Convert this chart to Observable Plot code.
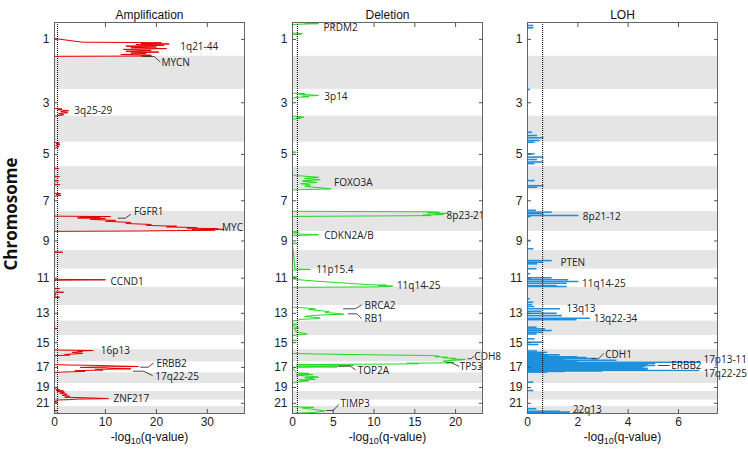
<!DOCTYPE html>
<html>
<head>
<meta charset="utf-8">
<script src="https://cdn.jsdelivr.net/npm/d3@7"></script>
<script src="https://cdn.jsdelivr.net/npm/@observablehq/plot@0.6"></script>
<style>
  body { margin: 0; background: #fff; }
  #wrap { position: relative; width: 748px; height: 454px; overflow: hidden; font-family: "Liberation Sans", Arial, sans-serif; }
  #wrap svg { position: absolute; top: 0; overflow: visible; }
  #ylab { position: absolute; left: 10px; top: 214px; transform: translate(-50%, -50%) rotate(-90deg);
          font: bold 17px "Open Sans", sans-serif; color: #111; white-space: nowrap; }
</style>
</head>
<body>
<div id="wrap"><div id="ylab">Chromosome</div></div>
<script>
// ---------- data ----------
const chromosomes = ["1","2","3","4","5","6","7","8","9","10","11","12","13","14","15","16","17","18","19","20","21","22"];
const chromLengths = [249,243,198,191,181,171,159,146,141,136,135,134,115,107,103,90,81,78,59,63,48,51]; // Mb

// profiles: [chromosome, position within chromosome (Mb), -log10(q)]
const ampProfile = [
  [1,0,0],[1,118,0],[1,145,5.5],[1,147,15],[1,150,21],[1,154,17],[1,158,22.5],[1,163,16],[1,168,21.5],[1,174,14],[1,180,20],[1,186,15],[1,192,22],[1,198,13.5],[1,205,19],[1,212,14],[1,218,20.5],[1,224,15],[1,230,18],[1,236,13],[1,241,19],[1,245,17],[1,247,19],[1,249,0],
  [2,0,0],[2,243,0],
  [3,0,0],[3,140,0],[3,145,1.5],[3,150,0.6],[3,158,2.8],[3,165,1.2],[3,172,2.6],[3,180,0.8],[3,188,1.8],[3,195,0.5],[3,198,0],
  [5,2,0],[5,6,1],[5,12,0.3],[5,18,1.1],[5,24,0.2],[5,32,0.9],[5,40,0.5],[5,46,0],
  [6,10,0],[6,13,0.9],[6,16,0],[6,70,0],[6,72,1],[6,75,0],[6,100,0],[6,103,0.8],[6,106,0],[6,128,0],[6,131,1.1],[6,134,0],
  [7,24,0],[7,27,1.2],[7,32,0.3],[7,40,1.3],[7,46,0],
  [8,0,0],[8,34,0],[8,37,11],[8,40,5],[8,43,9],[8,47,4.5],[8,52,10],[8,58,7],[8,65,12],[8,72,10],[8,80,15],[8,88,14],[8,95,19],[8,102,18],[8,108,24],[8,113,22],[8,118,28],[8,122,26],[8,126,32],[8,129,30],[8,131,33.3],[8,134,27],[8,137,31.5],[8,140,24],[8,143,17],[8,146,0],
  [10,10,0],[10,12.5,1.6],[10,15,0],
  [11,76,0],[11,79.5,10],[11,83,0.3],[11,88,0],
  [12,7,0],[12,9,1],[12,11,0],[12,34,0],[12,36,1.8],[12,39,0.3],[12,71,0],[12,73,1],[12,75,0],
  [14,52,0],[14,54,0.5],[14,56,0],
  [16,0,0],[16,3,0.5],[16,6,7.6],[16,10,4.5],[16,15,5.5],[16,20,3.5],[16,28,5.5],[16,35,2],[16,40,3],[16,44,0],
  [17,20,0],[17,23,3],[17,26,8],[17,30,12],[17,34,16.5],[17,37,9],[17,41,5],[17,44,10],[17,48,11],[17,51,15],[17,55,8],[17,60,9.5],[17,65,4],[17,70,6],[17,75,1.5],[17,78,0],
  [19,40,0],[19,45,1],[19,50,0.3],[19,55,1.8],[19,59,0.5],
  [20,0,0.8],[20,5,2],[20,12,1],[20,20,2.5],[20,28,1.5],[20,35,3],[20,42,2],[20,47,6.5],[20,52,10.6],[20,56,4.5],[20,60,3],[20,63,0],
  [21,10,0],[21,14,0.6],[21,18,0],[22,28,0],[22,30,0.5],[22,33,0],[22,51,0]
];
const delProfile = [
  [1,0,1],[1,3,2.4],[1,6,1.5],[1,9,3.2],[1,13,0.5],[1,16,0],[1,78,0],[1,81,1.2],[1,84,0.5],[1,87,1],[1,90,0],
  [3,28,0],[3,32,1.5],[3,36,0.8],[3,42,2.5],[3,46,3.2],[3,50,1.2],[3,55,2],[3,60,0.3],[3,70,0],
  [4,0,0],[4,3,0.8],[4,7,1.4],[4,12,0.5],[4,16,1],[4,22,0],
  [5,70,0],[5,74,0.4],[5,78,0],
  [6,60,0],[6,65,0.5],[6,72,2],[6,78,3.2],[6,86,1.5],[6,95,3.4],[6,105,1.2],[6,115,3],[6,125,1],[6,135,2.2],[6,145,1.5],[6,155,3.5],[6,163,4.7],[6,168,1.5],[6,171,0],
  [7,157,0],[8,2,17],[8,6,18],[8,10,16.5],[8,14,19],[8,18,17.5],[8,22,18.5],[8,26,16],[8,30,17],[8,36,0],
  [9,0,0],[9,4,0.8],[9,8,0.2],[9,18,0],[9,21,1.5],[9,25,3.2],[9,29,1],[9,33,0],[9,86,0],[9,89,0.6],[9,92,0],
  [11,0,0.3],[11,3,2.2],[11,6,0.5],[11,10,0],[11,55,0],[11,60,0.6],[11,65,0],[11,72,0],[11,80,1],[11,90,3],[11,100,5.5],[11,110,8],[11,116,9.5],[11,119,11.5],[11,122,10.5],[11,125,12.3],[11,128,12],[11,132,10],[11,135,0],
  [13,12,0],[13,18,1.5],[13,25,2.8],[13,30,2],[13,38,3.5],[13,45,4.5],[13,52,4],[13,58,5.5],[13,64,6.3],[13,68,4],[13,74,2.5],[13,80,1.5],[13,86,2.5],[13,92,3.4],[13,97,2.8],[13,102,1],[13,108,0.5],[13,115,0],
  [14,20,0],[14,25,0.6],[14,30,0],[14,45,0.3],[14,50,0.8],[14,55,0.2],[14,80,0.5],[14,88,1.2],[14,94,1.8],[14,100,0.8],[14,107,0],
  [15,32,0],[15,35,0.5],[15,38,0],
  [16,28,0],[16,32,3],[16,38,10],[16,43,16.7],[16,48,18],[16,52,17.5],[16,56,19],[16,60,18.5],[16,64,20],[16,68,19.5],[16,72,21.2],[16,76,20.5],[16,80,19],[16,85,18.5],[16,90,18.8],
  [17,4,19.8],[17,7,18.9],[17,10,14],[17,13,15.5],[17,16,12],[17,19,0.5],[17,22,4],[17,25,7.5],[17,28,6],[17,31,0.5],[17,34,3],[17,37,5.5],[17,40,0.5],[17,45,0],
  [18,0,0.5],[18,4,2],[18,8,0.8],[18,12,2.5],[18,16,0.5],[18,22,1.5],[18,28,2.8],[18,32,3.2],[18,36,1.5],[18,42,2.4],[18,48,2.8],[18,52,0.8],[18,58,2],[18,64,1],[18,70,0.3],[18,78,0],
  [22,0,0],[22,3,1],[22,6,2.6],[22,10,1.2],[22,16,2],[22,22,2.8],[22,28,3.5],[22,33,4],[22,38,3.2],[22,44,2.5],[22,51,0]
];
const lohBars = [
  [1,22,0.25],[1,39,0.25],[3,1,0.12],
  [4,118,0.2],[4,142,0.4],[4,159,0.65],[4,179,0.5],[4,191,0.3],
  [5,86,0.3],[5,110,0.65],[5,128,0.4],[5,146,0.65],[5,158,0.3],
  [6,102,0.3],[6,140,0.65],[6,151,0.4],
  [7,150,0.35],[8,5,0.98],[8,15,0.65],[8,29.5,2.04],[8,37,0.15],
  [9,67,0.12],[9,128,0.25],
  [10,74,0.98],[10,86,0.6],[10,98,0.4],[10,134,0.38],
  [11,35,0.12],[11,65,0.98],[11,79.5,1.64],[11,92,2.04],[11,104.6,1.58],[11,121.5,1.18],[11,129,1.58],
  [12,84,0.12],[12,109,0.25],[12,127,0.2],
  [13,7,0.3],[13,24,1.31],[13,42,0.58],[13,57,1.18],[13,74,1.38],[13,93.5,2.5],[13,105,1.97],
  [14,45,0.38],[14,57,0.72],[14,69,0.98],[14,82,0.6],[14,94,0.38],
  [15,23,0.3],[15,48,0.65],[15,65,0.45],
  [16,10,0.4],[16,20,0.8],[16,30,0.65],[16,38,1.3],[16,45,0.83],[16,52,2.0],[16,58,2.36],[16,65,2.75],[16,72,1.5],[16,78,3.56],[16,84,2.0],
  [17,3,6.85],[17,7,4.7],[17,11,5.1],[17,15,4.0],[17,19,4.8],[17,23,3.5],[17,27,5.1],[17,31,4.7],[17,35,3.2],[17,39,4.6],[17,43,2.5],[17,47,4.8],[17,51,4.2],[17,55,3.6],[17,59,4.8],[17,63,6.85],[17,67,3.0],[17,71,1.5],[17,75,0.8],
  [18,68,0.25],[19,51.5,0.25],
  [22,16,0.37],[22,34,1.3],[22,41,1.7]
];

// labels: [text, chromosome, position (Mb), -log10(q)]
const ampLabels = [["1q21-44",1,177,24.7],["MYCN",2,48,21],["3q25-29",3,156,3.9],["FGFR1",8,0,15.6],["MYC",8,123,32.9],["CCND1",11,92,11],["16p13",16,8,9.1],["ERBB2",17,12,20],["17q22-25",18,30,19.8],["ZNF217",20,54,11.6]];
const delLabels = [["PRDM2",1,39,3.8],["3p14",3,58,3.9],["FOXO3A",6,121,5.1],["8p23-21",8,29,18.9],["CDKN2A/B",9,30,3.9],["11p15.4",11,6,2.9],["11q14-25",11,122,12.8],["BRCA2",13,0,8.83],["RB1",13,95,8.83],["CDH8",16,52,22.3],["TP53",17,37.5,20.5],["TOP2A",17,63,8.0],["TIMP3",22,-20.6,5.9]];
const lohLabels = [["8p21-12",8,42,2.2],["PTEN",10,91,1.31],["11q14-25",11,109,2.17],["13q13",13,24,1.55],["13q22-34",13,98,2.63],["CDH1",16,35,3.09],["ERBB2",17,31.7,5.71],["17p13-11",17,-12,6.99],["17q22-25",17,84,6.99],["22q13",22,22,1.8]];

// leader lines: [id, chromosome, position (Mb), -log10(q)]
const ampLeaders = [["MYCN",2,1.5,17.4],["MYCN",2,1.5,19.6],["MYCN",2,40,20.7],
  ["FGFR1",8,49,12.5],["FGFR1",8,49,13.9],["FGFR1",8,22,14.9],
  ["ERBB2",17,39,16.9],["ERBB2",17,39,18.4],["ERBB2",17,9.6,19.4],
  ["17q",17,68.5,15.5],["17q",17,68.5,17.5],["17q",18,19,19.2]];
const delLeaders = [["BRCA2",13,24,6.26],["BRCA2",13,24,7.69],["BRCA2",13,-3,8.43],
  ["RB1",13,61,6.87],["RB1",13,61,7.9],["RB1",13,93.5,8.43],
  ["CDH8",16,67,21.5],["CDH8",16,67,21.9],["CDH8",16,50,22.2],
  ["TP53",17,6.6,18.9],["TP53",17,6.6,19.5],["TP53",17,31.7,20.4],
  ["TOP2A",17,31.7,5.64],["TOP2A",17,31.7,7.1],["TOP2A",17,58,7.7],
  ["TIMP3",22,28.7,4.17],["TIMP3",22,28.7,5.0],["TIMP3",22,-13,5.64]];
const lohLeaders = [["CDH1",16,67,2.55],["CDH1",16,67,2.82],["CDH1",16,30,3.02],
  ["ERBB2",17,26.5,5.2],["ERBB2",17,26.5,5.64]];

const threshold = 0.602; // -log10(0.25)
const ampTicks = [0,10,20,30];
const delTicks = [0,5,10,15,20];
const lohTicks = [0,2,4,6];

// ---------- derived ----------
const starts = chromLengths.map((_, i) => d3.sum(chromLengths.slice(0, i)));
const total = d3.sum(chromLengths);
const bands = chromosomes.map((c, i) => ({chr: c, y1: starts[i], y2: starts[i] + chromLengths[i], even: (i + 1) % 2 === 0}));
const oddBands = bands.filter(b => !b.even);
const centerLabel = new Map(oddBands.map(b => [(b.y1 + b.y2) / 2, b.chr]));
const oddCenters = [...centerLabel.keys()];
const gy = d => starts[d[0] - 1] + d[1];      // for [chr, pos, value]
const gyL = d => starts[d[1] - 1] + d[2];     // for [text/id, chr, pos, value]

function panel(cfg) {
  const tick = {tickFormat: () => "", stroke: "#555", label: null, tickSize: 4};
  const marks = [
    Plot.rect(bands.filter(b => b.even), {y1: "y1", y2: "y2", fill: "#e5e5e5"})
  ];
  if (cfg.profile) marks.push(Plot.line(cfg.profile, {x: d => d[2], y: gy, stroke: cfg.color, strokeWidth: 1}));
  if (cfg.bars) marks.push(Plot.ruleY(cfg.bars, {y: gy, x1: 0, x2: d => d[2], stroke: cfg.color, strokeWidth: 1.6}));
  marks.push(
    Plot.ruleX([threshold], {stroke: "#000", strokeWidth: 1, strokeDasharray: "1,1"}),
    Plot.line(cfg.leaders, {x: d => d[3], y: gyL, z: d => d[0], stroke: "#333", strokeWidth: 0.9}),
    Plot.text(cfg.labels, {x: d => d[3], y: gyL, text: d => d[0], textAnchor: "start", fontSize: 10, fontFamily: "Open Sans, sans-serif", fill: "#222"}),
    Plot.frame({stroke: "#666"}),
    Plot.axisY(oddCenters, {anchor: "left", tickSize: 0, tickPadding: 5, tickFormat: d => centerLabel.get(d), fontSize: 12, fill: "#222", label: null}),
    Plot.axisY(oddCenters, {...tick, anchor: "left", dx: 4}),
    Plot.axisY(oddCenters, {...tick, anchor: "right", dx: -4}),
    Plot.axisX(cfg.ticks, {anchor: "bottom", tickSize: 0, tickPadding: 4, fontSize: 12, fill: "#222", label: null}),
    Plot.axisX(cfg.ticks, {...tick, anchor: "bottom", dy: -4}),
    Plot.axisX(cfg.ticks, {...tick, anchor: "top", dy: 4}),
    Plot.text([cfg.title], {frameAnchor: "top", dy: -12, fontSize: 12, fill: "#111"}),
    Plot.text(["-log10(q-value)"], {frameAnchor: "bottom", dy: 27, fontSize: 12, fill: "#111"})
  );
  const svg = Plot.plot({
    width: cfg.width, height: 454,
    marginLeft: cfg.ml, marginRight: cfg.mr, marginTop: 22, marginBottom: 41,
    x: {domain: [0, cfg.xmax]},
    y: {domain: [0, total], reverse: true},
    style: {fontFamily: "Liberation Sans, Arial, sans-serif", fontSize: "12px", background: "transparent", overflow: "visible"},
    marks
  });
  svg.style.left = cfg.left + "px";
  d3.select(svg).selectAll("text").filter(function () { return this.textContent === "-log10(q-value)"; })
    .each(function () {
      const t = d3.select(this);
      t.text(null);
      t.append("tspan").text("-log");
      t.append("tspan").attr("dy", "3").attr("font-size", "9").text("10");
      t.append("tspan").attr("dy", "-3").text("(q-value)");
    });
  document.getElementById("wrap").appendChild(svg);
}

panel({title: "Amplification", left: 0, width: 250, ml: 54, mr: 6, xmax: 37.3, ticks: ampTicks, profile: ampProfile, color: "#e60000", labels: ampLabels, leaders: ampLeaders});
panel({title: "Deletion", left: 250, width: 240, ml: 42, mr: 8, xmax: 23.3, ticks: delTicks, profile: delProfile, color: "#1fdc1f", labels: delLabels, leaders: delLeaders});
panel({title: "LOH", left: 490, width: 258, ml: 37, mr: 31, xmax: 7.55, ticks: lohTicks, bars: lohBars, color: "#1e90dc", labels: lohLabels, leaders: lohLeaders});
</script>
</body>
</html>
